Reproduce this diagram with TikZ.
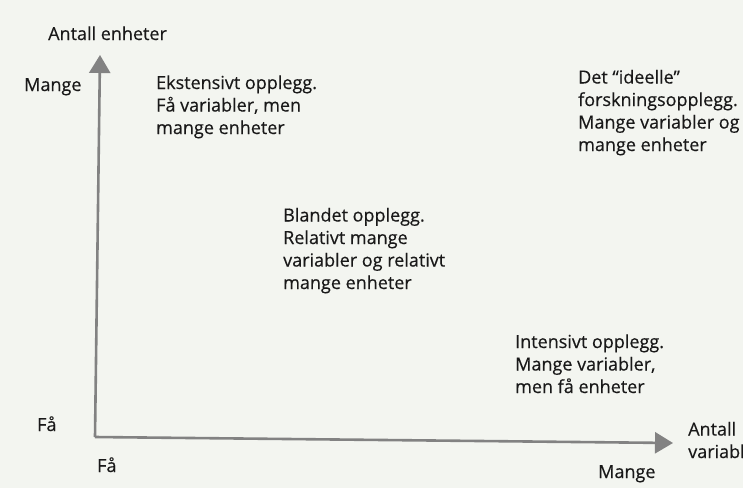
\documentclass[tikz,border=0pt]{standalone}
\usepackage{fontspec}
\setmainfont{Open Sans}[FakeBold=0.35]
\usetikzlibrary{arrows.meta}
\definecolor{paper}{RGB}{243,245,240}
\definecolor{ink}{RGB}{25,25,25}
\definecolor{axisgray}{RGB}{130,130,130}
\tikzset{
  lbl/.style={anchor=base west, inner sep=0pt, text=ink, font=\fontsize{18}{22.5}\selectfont, align=left},
  axisline/.style={draw=axisgray, line width=2.6pt, -{Triangle[length=18pt,width=21pt]}},
}
\begin{document}
\begin{tikzpicture}[x=1pt,y=-1pt]
\useasboundingbox (0,0) rectangle (743,488);
\clip (0,0) rectangle (743,488);
\fill[paper] (0,0) rectangle (743,488);
% axes
\coordinate (origin) at (95,437);
\coordinate (ytip) at (100,55);
\coordinate (xtip) at (673,443);
\draw[axisline] (origin) -- (ytip);
\draw[axisline] (origin) -- (xtip);
% labels (anchor = baseline of the last line)
\node[lbl] (ylabel) at (48,40) {Antall enheter};
\node[lbl] (ymany) at (24,91) {Mange};
\node[lbl] (yfew) at (37,431) {Få};
\node[lbl] (xfew) at (97,472) {Få};
\node[lbl] (xmany) at (598,478) {Mange};
\node[lbl] (xlabel) at (688,458) {Antall\\variabler};
% quadrant texts
\node[lbl] (ekst) at (156,134) {Ekstensivt opplegg.\\Få variabler, men\\mange enheter};
\node[lbl] (ideal) at (578,151) {Det “ideelle”\\forskningsopplegg.\\Mange variabler og\\mange enheter};
\node[lbl] (bland) at (283,289) {Blandet opplegg.\\Relativt mange\\variabler og relativt\\mange enheter};
\node[lbl] (inten) at (515,393) {Intensivt opplegg.\\Mange variabler,\\men få enheter};
\end{tikzpicture}
\end{document}
